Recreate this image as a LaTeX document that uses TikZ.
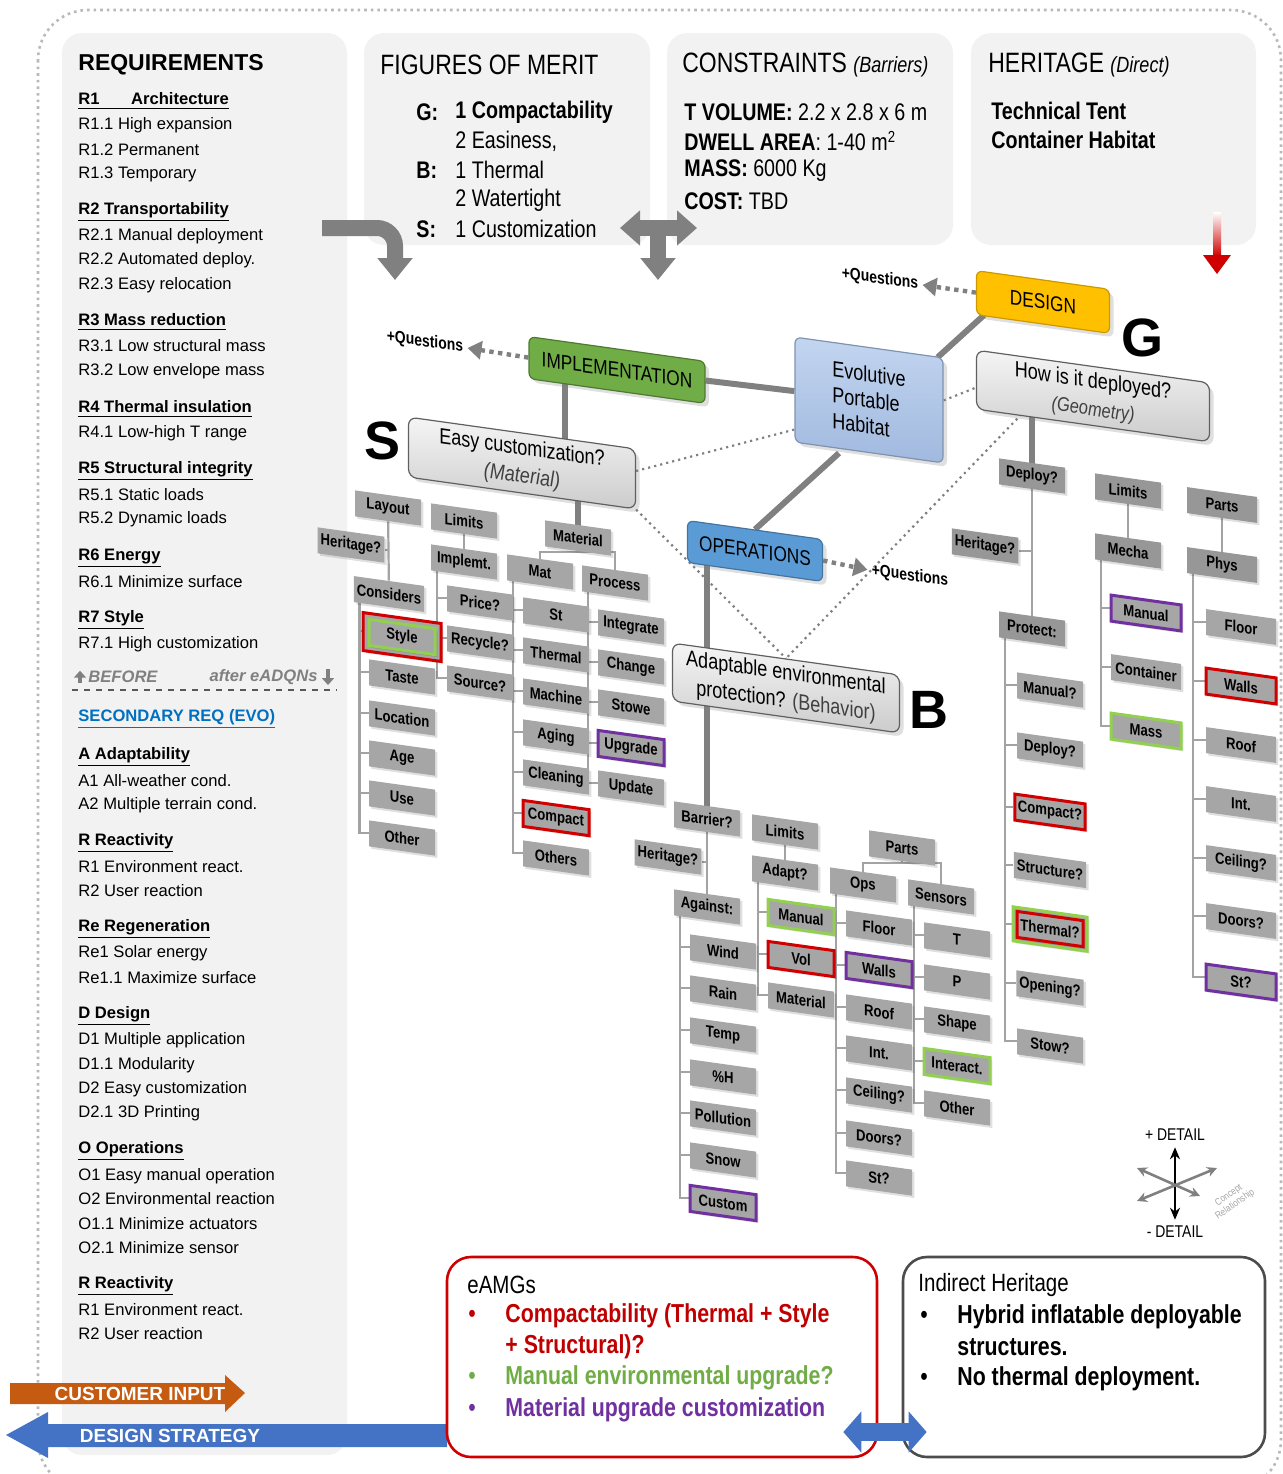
\documentclass[tikz,border=0pt]{standalone}
\usepackage{fontspec}
\setmainfont{Liberation Sans}
\newfontfamily\narrowfont[FakeStretch=0.82]{Liberation Sans}
\usepackage{tikz}
\usetikzlibrary{arrows.meta}
\usetikzlibrary{shadows}
\definecolor{panelgray}{HTML}{F2F2F2}
\definecolor{leafgray}{HTML}{A6A6A6}
\definecolor{leafdark}{HTML}{979797}
\definecolor{linkgray}{HTML}{808080}
\definecolor{treegray}{HTML}{A3A3A3}
\definecolor{hlred}{HTML}{D00000}
\definecolor{hlgreen}{HTML}{92D050}
\definecolor{hlpurple}{HTML}{7030A0}
\definecolor{txtred}{HTML}{C00000}
\definecolor{txtgreen}{HTML}{70AD47}
\definecolor{designyellow}{HTML}{FFC000}
\definecolor{implgreen}{HTML}{70AD47}
\definecolor{opsblue}{HTML}{5B9BD5}
\definecolor{evoblue}{HTML}{A9C3EA}
\definecolor{custorange}{HTML}{C55A11}
\definecolor{stratblue}{HTML}{4472C4}
\definecolor{secblue}{HTML}{0070C0}
\pgfdeclarelayer{background}
\pgfsetlayers{background,main}
\newcommand{\reqhead}[1]{\textbf{\underline{#1}}}

\begin{document}
\begin{tikzpicture}[x=0.5pt, y=-0.5pt,
  req/.style={anchor=west, inner sep=0pt, font=\fontsize{8.3}{9}\selectfont},
  paneltitle/.style={anchor=west, inner sep=0pt, font=\narrowfont\fontsize{14}{16}\selectfont},
  panelbody/.style={anchor=west, inner sep=0pt, font=\narrowfont\fontsize{12}{14}\selectfont},
  leaf/.style={fill=leafgray, yslant=-0.14, minimum width=33pt, minimum height=13pt, inner sep=1.5pt,
    font=\narrowfont\bfseries\fontsize{8}{9}\selectfont,
    drop shadow={shadow xshift=1.2pt, shadow yshift=-1.2pt, fill=black, opacity=.12}},
  headleaf/.style={leaf, fill=leafdark},
  ringbox/.style={leaf, minimum width=39pt, minimum height=19pt},
  hred/.style={draw=hlred, line width=1.5pt},
  hgreen/.style={draw=hlgreen, line width=1.5pt},
  hpurple/.style={draw=hlpurple, line width=1.5pt},
  bigbox/.style={yslant=-0.14, rounded corners=4pt, draw=gray!75!black, line width=.6pt,
    top color=gray!8, bottom color=gray!40, align=center, inner sep=2pt,
    font=\narrowfont\fontsize{11}{14}\selectfont,
    drop shadow={shadow xshift=2pt, shadow yshift=-2pt, opacity=.25}},
  colbox/.style={yslant=-0.14, rounded corners=3pt, line width=.6pt, inner sep=2pt,
    font=\narrowfont\fontsize{10.5}{12}\selectfont,
    drop shadow={shadow xshift=2pt, shadow yshift=-2pt, opacity=.25}},
  quest/.style={yslant=-0.14, inner sep=0pt, font=\narrowfont\bfseries\fontsize{8.5}{10}\selectfont},
  letter/.style={inner sep=0pt, font=\bfseries\fontsize{27}{30}\selectfont},
  link/.style={draw=linkgray, line width=3pt},
  dots/.style={draw=gray, line width=1.1pt, dotted},
  tree/.style={draw=treegray, line width=1.1pt},
  qarrow/.style={draw=linkgray, line width=2.2pt, dash pattern=on 2.2pt off 2.2pt, shorten >=2pt, -{Triangle[length=7pt,width=9pt]}},
  bigarrow/.style={draw=linkgray, line width=8pt, -{Triangle[length=11pt,width=17pt]}},
  bottxt/.style={anchor=west, inner sep=0pt, font=\narrowfont\fontsize{13}{15}\selectfont},
]
\useasboundingbox (0,0) rectangle (1283,1474);
% -- frame and panels --
\draw[gray!55, line width=1.3pt, dotted, rounded corners=25pt] (38,10) rectangle (1281,1490);
\fill[panelgray, rounded corners=10pt] (62,33) rectangle (347,1455);
\fill[panelgray, rounded corners=10pt] (364,33) rectangle (650,245);
\fill[panelgray, rounded corners=10pt] (667,33) rectangle (953,245);
\fill[panelgray, rounded corners=10pt] (971,33) rectangle (1256,245);

% -- requirements --
\node[req, font=\bfseries\fontsize{11.5}{13}\selectfont] (reqtitle) at (78,65) {REQUIREMENTS};
\node[req] (r1) at (78,101) {\reqhead{R1\hspace{1.9em}Architecture}};
\node[req] (r11) at (78,125) {R1.1 High expansion};
\node[req] (r12) at (78,150) {R1.2 Permanent};
\node[req] (r13) at (78,174) {R1.3 Temporary};
\node[req] (r2) at (78,212) {\reqhead{R2 Transportability}};
\node[req] (r21) at (78,236) {R2.1 Manual deployment};
\node[req] (r22) at (78,260) {R2.2 Automated deploy.};
\node[req] (r23) at (78,285) {R2.3 Easy relocation};
\node[req] (r3) at (78,322) {\reqhead{R3 Mass reduction}};
\node[req] (r31) at (78,346) {R3.1 Low structural mass};
\node[req] (r32) at (78,371) {R3.2 Low envelope mass};
\node[req] (r4) at (78,409) {\reqhead{R4 Thermal insulation}};
\node[req] (r41) at (78,433) {R4.1 Low-high T range};
\node[req] (r5) at (78,471) {\reqhead{R5 Structural integrity}};
\node[req] (r51) at (78,495) {R5.1 Static loads};
\node[req] (r52) at (78,519) {R5.2 Dynamic loads};
\node[req] (r6) at (78,558) {\reqhead{R6 Energy}};
\node[req] (r61) at (78,582) {R6.1 Minimize surface};
\node[req] (r7) at (78,620) {\reqhead{R7 Style}};
\node[req] (r71) at (78,644) {R7.1 High customization};
\node[req, font=\bfseries\itshape\fontsize{8.3}{9}\selectfont, text=gray] (before) at (88,677) {BEFORE};
\node[req, anchor=east, font=\bfseries\itshape\fontsize{8.3}{9}\selectfont, text=gray] (after) at (318,677) {after eADQNs};
\draw[draw=gray, line width=1.8pt, -{Triangle[length=3.5pt,width=6pt]}] ([xshift=-4pt]before.south west) -- ([xshift=-4pt]before.north west);
\draw[draw=gray, line width=1.8pt, -{Triangle[length=3.5pt,width=6pt]}] ([xshift=5pt]after.north east) -- ([xshift=5pt]after.south east);
\draw[gray!70!black, dashed, line width=.6pt] (72,690) -- (337,690);
\node[req, font=\bfseries\fontsize{8.3}{9}\selectfont, text=secblue] (secreq) at (78,719) {\underline{SECONDARY REQ (EVO)}};
\node[req] (a0) at (78,757) {\reqhead{A Adaptability}};
\node[req] (a1) at (78,781) {A1 All-weather cond.};
\node[req] (a2) at (78,805) {A2 Multiple terrain cond.};
\node[req] (rr0) at (78,843) {\reqhead{R Reactivity}};
\node[req] (rr1) at (78,867) {R1 Environment react.};
\node[req] (rr2) at (78,891) {R2 User reaction};
\node[req] (re0) at (78,929) {\reqhead{Re Regeneration}};
\node[req] (re1) at (78,953) {Re1 Solar energy};
\node[req] (re11) at (78,978) {Re1.1 Maximize surface};
\node[req] (d0) at (78,1016) {\reqhead{D Design}};
\node[req] (d1) at (78,1040) {D1 Multiple application};
\node[req] (d11) at (78,1065) {D1.1 Modularity};
\node[req] (d2) at (78,1089) {D2 Easy customization};
\node[req] (d21) at (78,1113) {D2.1 3D Printing};
\node[req] (o0) at (78,1151) {\reqhead{O Operations}};
\node[req] (o1) at (78,1176) {O1 Easy manual operation};
\node[req] (o2) at (78,1199) {O2 Environmental reaction};
\node[req] (o11) at (78,1224) {O1.1 Minimize actuators};
\node[req] (o21) at (78,1248) {O2.1 Minimize sensor};
\node[req] (rb0) at (78,1286) {\reqhead{R Reactivity}};
\node[req] (rb1) at (78,1310) {R1 Environment react.};
\node[req] (rb2) at (78,1334) {R2 User reaction};

% -- figures of merit, constraints, heritage --
\node[paneltitle] (fomtitle) at (380,65) {FIGURES OF MERIT};
\node[panelbody, font=\narrowfont\bfseries\fontsize{12}{14}\selectfont] (fomg) at (416,112) {G:};
\node[panelbody] (fomg1) at (455,112) {\textbf{1 Compactability}};
\node[panelbody] (fomg2) at (455,141) {2 Easiness,};
\node[panelbody, font=\narrowfont\bfseries\fontsize{12}{14}\selectfont] (fomb) at (416,170) {B:};
\node[panelbody] (fomb1) at (455,170) {1 Thermal};
\node[panelbody] (fomb2) at (455,200) {2 Watertight};
\node[panelbody, font=\narrowfont\bfseries\fontsize{12}{14}\selectfont] (foms) at (416,229) {S:};
\node[panelbody] (foms1) at (455,229) {1 Customization};
\node[paneltitle] (contitle) at (682,65) {CONSTRAINTS {\fontsize{11}{13}\selectfont\itshape (Barriers)}};
\node[panelbody] (con1) at (684,112) {\textbf{T VOLUME:} 2.2 x 2.8 x 6 m};
\node[panelbody] (con2) at (684,141) {\textbf{DWELL AREA}: 1-40 m\textsuperscript{2}};
\node[panelbody] (con3) at (684,171) {\textbf{MASS:} 6000 Kg};
\node[panelbody] (con4) at (684,201) {\textbf{COST:} TBD};
\node[paneltitle] (hertitle) at (988,65) {HERITAGE {\fontsize{11}{13}\selectfont\itshape (Direct)}};
\node[panelbody] (her1) at (991,111) {\textbf{Technical Tent}};
\node[panelbody] (her2) at (991,140) {\textbf{Container Habitat}};

% -- arrows out of the panels --
\coordinate (reqexit) at (322,228);
\coordinate (elbowend) at (395,280);
\draw[bigarrow, rounded corners=9pt] (reqexit) -| (elbowend);
\coordinate (meritL) at (620,228);
\coordinate (meritR) at (697,228);
\coordinate (meritdown) at (658,280);
\draw[bigarrow, {Triangle[length=10pt,width=17pt]}-{Triangle[length=10pt,width=17pt]}] (meritL) -- (meritR);
\draw[bigarrow] (meritL -| meritdown) -- (meritdown);
\shade[top color=white, bottom color=hlred] (1213,212) rectangle (1221,256);
\fill[hlred] (1203,255) -- (1231,255) -- (1217,274) -- cycle;

% -- central concept boxes --
\node[colbox, fill=designyellow, draw=designyellow!80!black, minimum width=66.5pt, minimum height=22pt] (design) at (1043,302) {DESIGN};
\node[bigbox, minimum width=116.5pt, minimum height=29.5pt] (geo) at (1093,396) {How is it deployed?\\{\fontsize{10}{12}\selectfont\itshape\color{darkgray}(Geometry)}};
\node[colbox, top color=evoblue!70!white, bottom color=evoblue!95!black, draw=evoblue!75!black, minimum width=74pt, minimum height=52.5pt, align=left, font=\narrowfont\fontsize{11}{13}\selectfont] (evo) at (869,400) {Evolutive\\Portable\\Habitat};
\node[colbox, fill=implgreen, draw=implgreen!70!black, minimum width=88pt, minimum height=21pt] (impl) at (617,370) {IMPLEMENTATION};
\node[colbox, fill=opsblue, draw=opsblue!75!black, minimum width=67.5pt, minimum height=21pt] (ops) at (755,551) {OPERATIONS};
\node[bigbox, minimum width=113.5pt, minimum height=30pt] (easy) at (522,463) {Easy customization?\\{\itshape\color{darkgray}(Material)}};
\node[bigbox, minimum width=113.5pt, minimum height=29pt] (adapt) at (786,688) {Adaptable environmental\\protection? {\color{darkgray}(Behavior)}};
\node[letter] (sletter) at (383,441) {S};
\node[letter] (bletter) at (929,710) {B};
\node[letter] (gletter) at (1142,338) {G};
\node[quest] (q1) at (880,279) {+Questions};
\node[quest] (q2) at (425,342) {+Questions};
\node[quest] (q3) at (910,576) {+Questions};
\draw[qarrow] (design.west) -- (q1.east);
\draw[qarrow] (impl.west) -- (q2.east);
\draw[qarrow] (ops.east) -- (q3.west);

% -- S tree --
\node[leaf] (sLayout) at (388,508) {Layout};
\node[leaf] (sHer) at (351,545) {Heritage?};
\node[leaf] (sCons) at (389,594) {Considers};
\node[ringbox, hred] (sStyle) at (402,637) {};
\node[leaf, hgreen] (sStyleIn) at (402,637) {Style};
\node[leaf] (sTaste) at (402,677) {Taste};
\node[leaf] (sLoc) at (402,718) {Location};
\node[leaf] (sAge) at (402,758) {Age};
\node[leaf] (sUse) at (402,798) {Use};
\node[leaf] (sOther) at (402,838) {Other};
\node[leaf] (sLim) at (464,521) {Limits};
\node[leaf] (sImpl) at (464,562) {Implemt.};
\node[leaf] (sPrice) at (480,603) {Price?};
\node[leaf] (sRec) at (480,643) {Recycle?};
\node[leaf] (sSrc) at (480,683) {Source?};
\node[leaf] (sMatl) at (578,538) {Material};
\node[leaf] (sMat) at (540,572) {Mat};
\node[leaf] (sProc) at (615,583) {Process};
\node[leaf] (sSt) at (556,615) {St};
\node[leaf] (sTherm) at (556,655) {Thermal};
\node[leaf] (sMach) at (556,696) {Machine};
\node[leaf] (sAging) at (556,737) {Aging};
\node[leaf] (sClean) at (556,777) {Cleaning};
\node[leaf, hred] (sComp) at (556,818) {Compact};
\node[leaf] (sOthers) at (556,858) {Others};
\node[leaf] (sInteg) at (631,627) {Integrate};
\node[leaf] (sChange) at (631,667) {Change};
\node[leaf] (sStowe) at (631,707) {Stowe};
\node[leaf, hpurple] (sUpg) at (631,748) {Upgrade};
\node[leaf] (sUpd) at (631,788) {Update};

% -- B tree --
\node[leaf] (bBar) at (707,819) {Barrier?};
\node[leaf] (bHer) at (668,857) {Heritage?};
\node[leaf] (bAgn) at (707,907) {Against:};
\node[leaf] (bWind) at (723,952) {Wind};
\node[leaf] (bRain) at (723,993) {Rain};
\node[leaf] (bTemp) at (723,1035) {Temp};
\node[leaf] (bHum) at (723,1077) {\%H};
\node[leaf] (bPoll) at (723,1118) {Pollution};
\node[leaf] (bSnow) at (723,1160) {Snow};
\node[leaf, hpurple] (bCust) at (723,1203) {Custom};
\node[leaf] (bLim) at (785,832) {Limits};
\node[leaf] (bAdapt) at (785,873) {Adapt?};
\node[leaf, hgreen] (bMan) at (801,917) {Manual};
\node[leaf, hred] (bVol) at (801,959) {Vol};
\node[leaf] (bMatl) at (801,1000) {Material};
\node[leaf] (bParts) at (902,848) {Parts};
\node[leaf] (bOps) at (863,885) {Ops};
\node[leaf] (bSens) at (941,897) {Sensors};
\node[leaf] (bFloor) at (879,928) {Floor};
\node[leaf, hpurple] (bWalls) at (879,970) {Walls};
\node[leaf] (bRoof) at (879,1012) {Roof};
\node[leaf] (bInt) at (879,1053) {Int.};
\node[leaf] (bCeil) at (879,1095) {Ceiling?};
\node[leaf] (bDoors) at (879,1138) {Doors?};
\node[leaf] (bSt) at (879,1178) {St?};
\node[leaf] (bT) at (957,940) {T};
\node[leaf] (bP) at (957,982) {P};
\node[leaf] (bShape) at (957,1024) {Shape};
\node[leaf, hgreen] (bInter) at (957,1066) {Interact.};
\node[leaf] (bOther) at (957,1108) {Other};

% -- G tree --
\node[headleaf] (gDep) at (1032,476) {Deploy?};
\node[headleaf] (gHer) at (985,546) {Heritage?};
\node[headleaf] (gProt) at (1032,629) {Protect:};
\node[leaf] (gMan) at (1050,690) {Manual?};
\node[leaf] (gDep2) at (1050,750) {Deploy?};
\node[leaf, hred] (gComp) at (1050,812) {Compact?};
\node[leaf] (gStruct) at (1050,870) {Structure?};
\node[ringbox, hgreen, minimum width=37pt, minimum height=17pt] (gTherm) at (1050,929) {};
\node[leaf, hred] (gThermIn) at (1050,929) {Thermal?};
\node[leaf] (gOpen) at (1050,988) {Opening?};
\node[leaf] (gStow) at (1050,1046) {Stow?};
\node[headleaf] (gLim) at (1128,491) {Limits};
\node[headleaf] (gMech) at (1128,551) {Mecha};
\node[leaf, hpurple, minimum width=35pt] (gMan2) at (1146,613) {Manual};
\node[leaf, minimum width=35pt] (gCont) at (1146,672) {Container};
\node[leaf, hgreen, minimum width=35pt] (gMass) at (1146,731) {Mass};
\node[headleaf, minimum width=35pt] (gParts) at (1222,505) {Parts};
\node[headleaf, minimum width=35pt] (gPhys) at (1222,565) {Phys};
\node[leaf, minimum width=35pt] (gFloor) at (1241,627) {Floor};
\node[leaf, hred, minimum width=35pt] (gWalls) at (1241,686) {Walls};
\node[leaf, minimum width=35pt] (gRoof) at (1241,745) {Roof};
\node[leaf, minimum width=35pt] (gInt) at (1241,804) {Int.};
\node[leaf, minimum width=35pt] (gCeil) at (1241,863) {Ceiling?};
\node[leaf, minimum width=35pt] (gDoors) at (1241,921) {Doors?};
\node[leaf, hpurple, minimum width=35pt] (gSt) at (1241,982) {St?};

% -- links and branches behind the boxes --
\begin{pgfonlayer}{background}
\draw[link] (impl) -- (evo);
\draw[link] ([xshift=4pt]design.south west) -- ([xshift=-3pt]evo.north east);
\draw[link] ([xshift=-15pt]evo.south) -- (ops.north);
\draw[link] ([xshift=-26pt]impl.center) -- ([xshift=-26pt]impl.center |- easy.center);
\draw[link] (sMatl.center) -- (sMatl.center |- easy.center);
\draw[link] (bBar.center) -- (bBar.center |- ops.center);
\draw[link] (gDep.center) -- (gDep.center |- geo.center);
\draw[dots] ([yshift=4pt]easy.east) -- ([yshift=-20pt]evo.west);
\draw[dots] ([yshift=5pt]evo.east) -- ([yshift=-4pt]geo.west);
\draw[dots] (easy.south east) -- (adapt.north);
\draw[dots] ([xshift=25pt]geo.south west) -- (adapt.north);
% S branches
\draw[tree] (sLayout) -- (sCons);
\draw[tree] (sHer.east) -- (sHer.east -| sLayout.south);
\draw[tree] ([xshift=3pt]sCons.south west) coordinate (tk) |- (sStyle.west) (tk) |- (sTaste.west) (tk) |- (sLoc.west) (tk) |- (sAge.west) (tk) |- (sUse.west) (tk) |- (sOther.west);
\draw[tree] (sLim) -- (sImpl);
\draw[tree] ([xshift=3pt]sImpl.south west) coordinate (tk) |- (sPrice.west) (tk) |- (sRec.west) (tk) |- (sSrc.west);
\coordinate (mbar) at (578,552);
\draw[tree] (sMatl) -- (mbar);
\draw[tree] (sMat.north) |- (mbar) -| (sProc.north);
\draw[tree] ([xshift=3pt]sMat.south west) coordinate (tk) |- (sSt.west) (tk) |- (sTherm.west) (tk) |- (sMach.west) (tk) |- (sAging.west) (tk) |- (sClean.west) (tk) |- (sComp.west) (tk) |- (sOthers.west);
\draw[tree] ([xshift=3pt]sProc.south west) coordinate (tk) |- (sInteg.west) (tk) |- (sChange.west) (tk) |- (sStowe.west) (tk) |- (sUpg.west) (tk) |- (sUpd.west);
% B branches
\draw[tree] (bBar) -- (bAgn);
\draw[tree] (bHer.east) -- (bHer.east -| bBar.south);
\draw[tree] ([xshift=3pt]bAgn.south west) coordinate (tk) |- (bWind.west) (tk) |- (bRain.west) (tk) |- (bTemp.west) (tk) |- (bHum.west) (tk) |- (bPoll.west) (tk) |- (bSnow.west) (tk) |- (bCust.west);
\draw[tree] (bLim) -- (bAdapt);
\draw[tree] ([xshift=3pt]bAdapt.south west) coordinate (tk) |- (bMan.west) (tk) |- (bVol.west) (tk) |- (bMatl.west);
\coordinate (pbar) at (902,863);
\draw[tree] (bParts) -- (pbar);
\draw[tree] (bOps.north) |- (pbar) -| (bSens.north);
\draw[tree] ([xshift=3pt]bOps.south west) coordinate (tk) |- (bFloor.west) (tk) |- (bWalls.west) (tk) |- (bRoof.west) (tk) |- (bInt.west) (tk) |- (bCeil.west) (tk) |- (bDoors.west) (tk) |- (bSt.west);
\draw[tree] ([xshift=3pt]bSens.south west) coordinate (tk) |- (bT.west) (tk) |- (bP.west) (tk) |- (bShape.west) (tk) |- (bInter.west) (tk) |- (bOther.west);
% G branches
\draw[tree] (gDep) -- (gProt);
\draw[tree] (gHer.east) -- (gHer.east -| gDep.south);
\draw[tree] ([xshift=3pt]gProt.south west) coordinate (tk) |- (gMan.west) (tk) |- (gDep2.west) (tk) |- (gComp.west) (tk) |- (gStruct.west) (tk) |- (gTherm.west) (tk) |- (gOpen.west) (tk) |- (gStow.west);
\draw[tree] (gLim) -- (gMech);
\draw[tree] ([xshift=3pt]gMech.south west) coordinate (tk) |- (gMan2.west) (tk) |- (gCont.west) (tk) |- (gMass.west);
\draw[tree] (gParts) -- (gPhys);
\draw[tree] ([xshift=3pt]gPhys.south west) coordinate (tk) |- (gFloor.west) (tk) |- (gWalls.west) (tk) |- (gRoof.west) (tk) |- (gInt.west) (tk) |- (gCeil.west) (tk) |- (gDoors.west) (tk) |- (gSt.west);
\end{pgfonlayer}

% -- detail legend --
\node[inner sep=0pt, font=\narrowfont\fontsize{8.5}{10}\selectfont] (dplus) at (1175,1135) {+ DETAIL};
\node[inner sep=0pt, font=\narrowfont\fontsize{8.5}{10}\selectfont] (dminus) at (1175,1232) {- DETAIL};
\draw[line width=1.3pt, {Stealth[length=6pt,width=5pt]}-{Stealth[length=6pt,width=5pt]}] ([yshift=-3pt]dplus.south) -- ([yshift=3pt]dminus.north);
\coordinate (cra) at (1137,1201);
\coordinate (crb) at (1217,1168);
\coordinate (crc) at (1137,1168);
\coordinate (crd) at (1200,1196);
\draw[gray, line width=1.3pt, {Stealth[length=5pt,width=5pt]}-{Stealth[length=5pt,width=5pt]}] (cra) -- (crb);
\draw[gray, line width=1.3pt, {Stealth[length=5pt,width=5pt]}-{Stealth[length=5pt,width=5pt]}] (crc) -- (crd);
\node[rotate=35, inner sep=0pt, align=center, text=gray!70, font=\narrowfont\fontsize{5}{5.5}\selectfont] (concept) at (1232,1200) {Concept\\Relationship};

% -- bottom boxes and arrows --
\fill[custorange] (10,1383) -- (225,1383) -- (225,1375) -- (245,1393) -- (225,1412) -- (225,1404) -- (10,1404) -- cycle;
\node[inner sep=0pt, text=white, font=\bfseries\fontsize{9.5}{11}\selectfont] (custin) at (140,1394) {CUSTOMER INPUT};
\fill[stratblue] (447,1424) -- (48,1424) -- (48,1412) -- (6,1435) -- (48,1458) -- (48,1447) -- (447,1447) -- cycle;
\node[inner sep=0pt, text=white, font=\bfseries\fontsize{9.5}{11}\selectfont] (strat) at (170,1436) {DESIGN STRATEGY};
\node[draw=hlred, fill=white, line width=1.3pt, rounded corners=12pt, minimum width=215pt, minimum height=100pt] (eamgs) at (662,1357) {};
\node[draw=gray!60!black, fill=white, line width=1.3pt, rounded corners=12pt, minimum width=181pt, minimum height=100pt] (indir) at (1084,1357) {};
\node[bottxt, font=\narrowfont\fontsize{12.5}{15}\selectfont] (eamgt) at (467,1285) {eAMGs};
\node[bottxt, text=txtred] (eb1) at (468,1316) {•};
\node[bottxt, text=txtred] (e1) at (505,1316) {\textbf{Compactability (Thermal + Style}};
\node[bottxt, text=txtred] (e1b) at (505,1347) {\textbf{+ Structural)?}};
\node[bottxt, text=txtgreen] (eb2) at (468,1378) {•};
\node[bottxt, text=txtgreen] (e2) at (505,1378) {\textbf{Manual environmental upgrade?}};
\node[bottxt, text=hlpurple] (eb3) at (468,1410) {•};
\node[bottxt, text=hlpurple] (e3) at (505,1410) {\textbf{Material upgrade customization}};
\node[bottxt, font=\narrowfont\fontsize{12.5}{15}\selectfont] (indt) at (918,1285) {Indirect Heritage};
\node[bottxt] (ib1) at (920,1317) {•};
\node[bottxt] (i1) at (957,1317) {\textbf{Hybrid inflatable deployable}};
\node[bottxt] (i1b) at (957,1347) {\textbf{structures.}};
\node[bottxt] (ib2) at (920,1379) {•};
\node[bottxt] (i2) at (957,1379) {\textbf{No thermal deployment.}};
\draw[stratblue, line width=9pt, {Triangle[length=9pt,width=20pt]}-{Triangle[length=9pt,width=20pt]}] ([shift={(-35,75)}]eamgs.east) -- ([shift={(25,75)}]indir.west);
\end{tikzpicture}
\end{document}
